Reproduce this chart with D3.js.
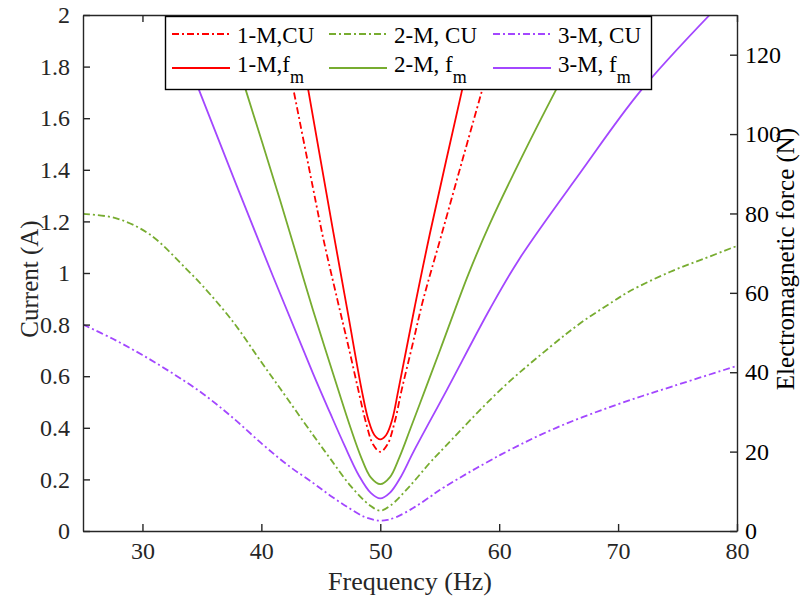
<!DOCTYPE html>
<html>
<head>
<meta charset="utf-8">
<script src="https://cdn.jsdelivr.net/npm/d3@7"></script>
<style>
  body { margin: 0; background: #fff; }
</style>
</head>
<body>
<div id="chart"></div>
<script>
const WIDTH = 801;
const HEIGHT = 601;
const FONT = "'Liberation Serif', 'Times New Roman', serif";

// current curves (A), left axis: [frequency Hz, current]
const cu1 = [[42.0, 1.87], [42.7, 1.71], [44.34, 1.33], [45.2, 1.135], [46.4, 0.895], [47.3, 0.72],
  [48.15, 0.547], [48.8, 0.42], [49.4, 0.335], [50, 0.307], [50.6, 0.335], [51.2, 0.42], [51.8, 0.547],
  [52.7, 0.72], [53.6, 0.895], [55.1, 1.14], [56.8, 1.42], [58.53, 1.703], [59.6, 1.88], [60.4, 2.01]];
const cu2 = [[25, 1.229], [27.8, 1.212], [30.6, 1.15], [33.7, 1.015], [35.1, 0.948], [37.6, 0.812],
  [40.1, 0.648], [41.57, 0.553], [44.3, 0.375], [45.8, 0.28], [47.5, 0.175], [49.16, 0.098], [50, 0.079],
  [50.84, 0.098], [52.5, 0.175], [54.18, 0.265], [55.0, 0.305], [60.1, 0.547], [64.3, 0.714],
  [66.9, 0.808], [69.6, 0.89], [71.0, 0.93], [74.4, 1.005], [77.2, 1.055], [80, 1.105]];
const cu3 = [[25, 0.8], [27.5, 0.745], [30, 0.682], [32.5, 0.612], [35, 0.535], [37.5, 0.443],
  [40.1, 0.336], [42.2, 0.256], [44.3, 0.188], [45.8, 0.137], [47.2, 0.094], [48.6, 0.056],
  [49.4, 0.044], [50, 0.04], [50.6, 0.043], [51.4, 0.055], [52.8, 0.09], [54.2, 0.133], [55.0, 0.159],
  [60.1, 0.295], [64.8, 0.4], [69.9, 0.49], [74.6, 0.561], [80, 0.64]];

// electromagnetic force curves (N), right axis
const fm1 = [[42.8, 130.5], [43.95, 111], [46.05, 75.3], [47.3, 54.5], [48.44, 35.5], [49.0, 28],
  [49.5, 24.2], [50, 23.1], [50.5, 24.2], [51.0, 28], [51.52, 35.5], [52.9, 56.5], [54.18, 75],
  [56.85, 110.7], [58.3, 130]];
const fm2 = [[36.7, 130], [38.73, 110.7], [41.57, 83.4], [43.08, 68.3], [44.34, 55.7], [46.47, 35.5],
  [47.5, 26], [48.4, 18.5], [49.2, 13.5], [50, 11.8], [50.8, 13.5], [51.6, 18.5], [52.5, 25.5],
  [53.76, 35.5], [55.03, 45.6], [57.4, 64.6], [59.23, 77.5], [61.9, 94.2], [64.7, 110.7], [68.2, 130.5]];
const fm3 = [[32.3, 130.5], [34.81, 110.7], [40.42, 68.3], [44.34, 39.7], [45.77, 29.8], [47.0, 21.5],
  [48.2, 14], [49.2, 9.6], [50, 8.2], [50.8, 9.6], [51.7, 13.5], [52.8, 20], [55.59, 35.5],
  [59.23, 56], [61.75, 68.8], [66.8, 90.2], [71.84, 110.7], [77.7, 130]];

const xTicks = [30, 40, 50, 60, 70, 80];
const yLeftTicks = [0, 0.2, 0.4, 0.6, 0.8, 1, 1.2, 1.4, 1.6, 1.8, 2];
const yRightTicks = [0, 20, 40, 60, 80, 100, 120];

const RED = "#ff0000";
const GREEN = "#77ac30";
const PURPLE = "#a347ff";
const DASH = "7,3,2,3";

const series = [
  {name: "1-M,CU", data: cu1, axis: "left", color: RED, dash: DASH},
  {name: "2-M, CU", data: cu2, axis: "left", color: GREEN, dash: DASH},
  {name: "3-M, CU", data: cu3, axis: "left", color: PURPLE, dash: DASH},
  {name: "1-M,f", data: fm1, axis: "right", color: RED, dash: null},
  {name: "2-M, f", data: fm2, axis: "right", color: GREEN, dash: null},
  {name: "3-M, f", data: fm3, axis: "right", color: PURPLE, dash: null}
];

const margin = {top: 15, right: 64, bottom: 70, left: 83};
const w = WIDTH - margin.left - margin.right;
const h = HEIGHT - margin.top - margin.bottom;

const svg = d3.select("#chart").append("svg")
  .attr("width", WIDTH)
  .attr("height", HEIGHT)
  .style("font-family", FONT);

const g = svg.append("g")
  .attr("transform", `translate(${margin.left},${margin.top})`);

const x = d3.scaleLinear().domain([25, 80]).range([0, w]);
const yL = d3.scaleLinear().domain([0, 2]).range([h, 0]);
const yR = d3.scaleLinear().domain([0, 130]).range([h, 0]);

svg.append("defs").append("clipPath").attr("id", "plotclip")
  .append("rect").attr("width", w).attr("height", h);

const curves = g.append("g").attr("clip-path", "url(#plotclip)");
series.forEach(s => {
  const ys = s.axis === "left" ? yL : yR;
  const line = d3.line()
    .x(d => x(d[0]))
    .y(d => ys(d[1]))
    .curve(d3.curveCatmullRom.alpha(0.5));
  curves.append("path")
    .datum(s.data)
    .attr("d", line)
    .attr("fill", "none")
    .attr("stroke", s.color)
    .attr("stroke-width", 1.8)
    .attr("stroke-dasharray", s.dash);
});

// axes, ticks pointing inward like the original
const fmt = d3.format("~g");
const axisStyle = sel => {
  sel.attr("font-family", null);
  sel.select(".domain").attr("stroke", "#262626").attr("stroke-width", 1.4);
  sel.selectAll(".tick line").attr("stroke", "#262626").attr("stroke-width", 1.4);
  sel.selectAll("text").attr("font-size", 24).attr("fill", "#262626")
    .style("font-family", FONT);
};

g.append("g").attr("transform", `translate(0,${h})`)
  .call(d3.axisBottom(x).tickValues(xTicks).tickSizeInner(-7).tickSizeOuter(0).tickPadding(11))
  .call(axisStyle);
g.append("g")
  .call(d3.axisTop(x).tickValues(xTicks).tickSizeInner(-7).tickSizeOuter(0).tickFormat(""))
  .call(axisStyle);
g.append("g")
  .call(d3.axisLeft(yL).tickValues(yLeftTicks).tickFormat(fmt).tickSizeInner(-7).tickSizeOuter(0).tickPadding(13))
  .call(axisStyle);
g.append("g").attr("transform", `translate(${w},0)`)
  .call(d3.axisRight(yR).tickValues(yRightTicks).tickSizeInner(-7).tickSizeOuter(0).tickPadding(8))
  .call(axisStyle)
  .call(a => a.selectAll("text").attr("fill", "#000"));

g.append("text")
  .attr("x", w / 2).attr("y", h + 59)
  .attr("text-anchor", "middle").attr("font-size", 26).attr("fill", "#262626")
  .text("Frequency (Hz)");
g.append("text")
  .attr("transform", `translate(${-45},${h / 2 + 6}) rotate(-90)`)
  .attr("text-anchor", "middle").attr("font-size", 25).attr("fill", "#262626")
  .text("Current (A)");
g.append("text")
  .attr("transform", `translate(${w + 57},${h / 2 - 14}) rotate(-90)`)
  .attr("text-anchor", "middle").attr("font-size", 25).attr("fill", "#000")
  .text("Electromagnetic force (N)");

// legend, 3 columns x 2 rows
const legend = svg.append("g");
legend.append("rect")
  .attr("x", 165.5).attr("y", 16.5).attr("width", 486).attr("height", 73)
  .attr("fill", "#fff").attr("stroke", "#000").attr("stroke-width", 1.4);
const colX = [172, 329, 493];
const rowY = [34, 68];
series.forEach((s, i) => {
  const cx = colX[i % 3];
  const cy = rowY[Math.floor(i / 3)];
  legend.append("line")
    .attr("x1", cx).attr("x2", cx + 58).attr("y1", cy).attr("y2", cy)
    .attr("stroke", s.color).attr("stroke-width", 1.8)
    .attr("stroke-dasharray", s.dash);
  const t = legend.append("text")
    .attr("x", cx + 65).attr("y", s.axis === "right" ? cy + 4 : cy + 9)
    .attr("font-size", 23).attr("fill", "#000")
    .text(s.name);
  if (s.axis === "right") {
    t.append("tspan").attr("dy", 11).attr("font-size", 18).text("m");
  }
});
</script>
</body>
</html>
